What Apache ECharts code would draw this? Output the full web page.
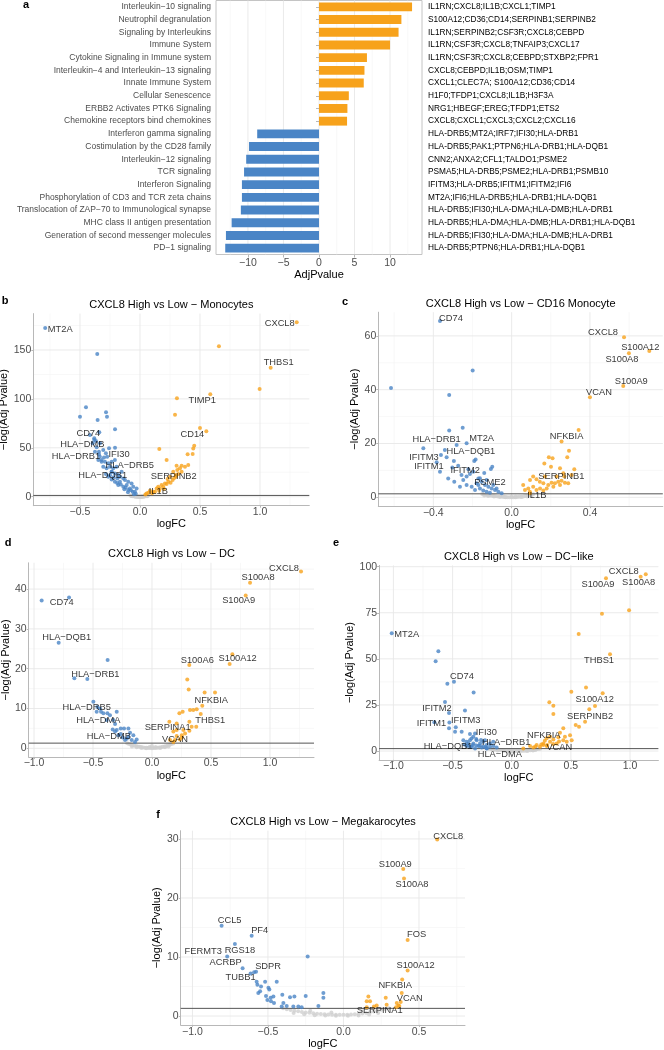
<!DOCTYPE html>
<html><head><meta charset="utf-8">
<script src="https://cdn.jsdelivr.net/npm/echarts@6/dist/echarts.min.js"></script>
<style>html,body{margin:0;padding:0;background:#fff}#c{width:664px;height:1050px}</style>
</head><body><div id="c"></div>
<script>
// ---------------- DATA ----------------
const aPathways = ['Interleukin-10 signaling','Neutrophil degranulation','Signaling by Interleukins','Immune System','Cytokine Signaling in Immune system','Interleukin-4 and Interleukin-13 signaling','Innate Immune System','Cellular Senescence','ERBB2 Activates PTK6 Signaling','Chemokine receptors bind chemokines','Interferon gamma signaling','Costimulation by the CD28 family','Interleukin-12 signaling','TCR signaling','Interferon Signaling','Phosphorylation of CD3 and TCR zeta chains','Translocation of ZAP-70 to Immunological synapse','MHC class II antigen presentation','Generation of second messenger molecules','PD-1 signaling'];
const aValues = [13.1,11.6,11.2,10.0,6.75,6.4,6.3,4.2,4.0,3.95,-8.7,-9.85,-10.25,-10.55,-10.85,-10.85,-11.0,-12.3,-13.1,-13.2];
const aGenes = ['IL1RN;CXCL8;IL1B;CXCL1;TIMP1','S100A12;CD36;CD14;SERPINB1;SERPINB2','IL1RN;SERPINB2;CSF3R;CXCL8;CEBPD','IL1RN;CSF3R;CXCL8;TNFAIP3;CXCL17','IL1RN;CSF3R;CXCL8;CEBPD;STXBP2;FPR1','CXCL8;CEBPD;IL1B;OSM;TIMP1','CXCL1;CLEC7A; S100A12;CD36;CD14','H1F0;TFDP1;CXCL8;IL1B;H3F3A','NRG1;HBEGF;EREG;TFDP1;ETS2','CXCL8;CXCL1;CXCL3;CXCL2;CXCL16','HLA-DRB5;MT2A;IRF7;IFI30;HLA-DRB1','HLA-DRB5;PAK1;PTPN6;HLA-DRB1;HLA-DQB1','CNN2;ANXA2;CFL1;TALDO1;PSME2','PSMA5;HLA-DRB5;PSME2;HLA-DRB1;PSMB10','IFITM3;HLA-DRB5;IFITM1;IFITM2;IFI6','MT2A;IFI6;HLA-DRB5;HLA-DRB1;HLA-DQB1','HLA-DRB5;IFI30;HLA-DMA;HLA-DMB;HLA-DRB1','HLA-DRB5;HLA-DMA;HLA-DMB;HLA-DRB1;HLA-DQB1','HLA-DRB5;IFI30;HLA-DMA;HLA-DMB;HLA-DRB1','HLA-DRB5;PTPN6;HLA-DRB1;HLA-DQB1'];
const aXTicks = [-10,-5,0,5,10];

const SIG = 1.3;

const bTitle = 'CXCL8 High vs Low - Monocytes';
const bXTicks = [-0.5,0,0.5,1], bYTicks = [0,50,100,150];
const bLabeled = [['MT2A',-0.79,172.5],['CXCL8',1.306,178.3],['THBS1',1.089,131.9],['TIMP1',0.586,104.7],['CD14',0.553,66.8],['CD74',-0.339,65.8],['HLA-DMB',-0.381,58.0],['HLA-DRB1',-0.342,43.4],['IFI30',-0.258,49.5],['HLA-DRB5',-0.319,37.5],['HLA-DQB1',-0.236,25.6],['SERPINB2',0.298,22.2],['IL1B',0.111,5.1]];
const bBlue = [[-0.356,145.9],[-0.45,91.4],[-0.5,81.8],[-0.283,86.3],[-0.275,81.8],[-0.353,78.4],[-0.208,68.9],[-0.417,63.1],[-0.381,59.7],[-0.367,57.0],[-0.394,54.6],[-0.333,54.6],[-0.361,50.5],[-0.208,50.1],[-0.375,46.0],[-0.342,46.0],[-0.306,47.7],[-0.284,44.3],[-0.273,40.9],[-0.3,40.2],[-0.334,40.9],[-0.347,37.5],[-0.32,35.8],[-0.292,35.8],[-0.264,34.1],[-0.236,35.8],[-0.209,37.5],[-0.306,30.7],[-0.278,29.0],[-0.25,30.7],[-0.223,29.0],[-0.195,30.7],[-0.236,25.5],[-0.209,23.8],[-0.181,22.1],[-0.167,20.4],[-0.139,18.7],[-0.125,17.0],[-0.098,15.3],[-0.07,13.6],[-0.056,10.2],[-0.028,8.5],[-0.061,5.1],[-0.098,6.8],[-0.139,10.2],[-0.181,11.9],[-0.209,15.3],[-0.236,17.7],[-0.264,20.4],[-0.284,23.2],[-0.167,15.3],[-0.111,11.9],[-0.084,8.5],[-0.042,5.1],[-0.153,25.5],[-0.189,18.7],[-0.25,22.0],[-0.22,20.0],[-0.16,12.5],[-0.12,9.5],[-0.075,6.5],[-0.035,3.0],[-0.05,2.5],[-0.1,4.5],[-0.13,7.5],[-0.19,14.0]];
const bOrange = [[0.658,153.8],[0.997,110.1],[0.308,100.6],[0.292,83.8],[0.5,70.2],[0.452,52.1],[0.444,49.4],[0.397,43.3],[0.439,43.6],[0.161,48.7],[0.222,37.5],[0.305,31.7],[0.347,31.7],[0.375,30.7],[0.402,32.4],[0.311,27.3],[0.347,25.5],[0.277,25.5],[0.319,23.2],[0.25,20.4],[0.272,17.0],[0.236,15.3],[0.208,13.6],[0.18,11.9],[0.194,10.2],[0.152,10.2],[0.139,8.5],[0.083,6.1],[0.069,4.1],[0.055,3.4],[0.222,12.9],[0.255,14.3],[0.166,8.5],[0.125,5.1],[0.3,20.4],[0.333,29.0],[0.1,3.5],[0.045,2.2],[0.23,18.0],[0.285,19.0],[0.16,6.0],[0.2,8.0]];
const bGray = [[-0.08,1.25],[-0.074,1.1],[-0.069,0.95],[-0.063,0.82],[-0.058,0.7],[-0.052,0.6],[-0.047,0.5],[-0.041,0.41],[-0.036,0.33],[-0.03,0.26],[-0.025,0.2],[-0.019,0.14],[-0.014,0.09],[-0.008,0.05],[-0.003,0.02],[0.003,0.02],[0.008,0.05],[0.014,0.1],[0.019,0.15],[0.025,0.22],[0.03,0.3],[0.036,0.38],[0.041,0.48],[0.047,0.6],[0.052,0.72],[0.058,0.86],[0.063,1.0],[0.068,1.15],[-0.06,0.45],[-0.045,0.3],[-0.033,0.15],[-0.02,0.06],[0.02,0.07],[0.035,0.2],[0.05,0.4],[-0.07,0.6],[0.06,0.55],[-0.01,0.3],[0.01,0.25]];

const cTitle = 'CXCL8 High vs Low - CD16 Monocyte';
const cXTicks = [-0.4,0,0.4], cYTicks = [0,20,40,60];
const cLabeled = [['CD74',-0.366,65.5],['CXCL8',0.574,59.5],['S100A12',0.703,54.4],['S100A8',0.599,53.5],['S100A9',0.57,41.4],['VCAN',0.4,37.2],['NFKBIA',0.255,20.7],['HLA-DRB1',-0.281,19.4],['MT2A',-0.23,20.1],['HLA-DQB1',-0.341,17.6],['IFITM3',-0.361,15.7],['IFITM1',-0.366,9.5],['IFITM2',-0.273,11.7],['PSME2',-0.162,7.1],['SERPINB1',0.269,7.7],['IL1B',0.093,1.5]];
const cBlue = [[-0.199,47.1],[-0.616,40.6],[-0.319,38.0],[-0.319,24.8],[-0.25,25.9],[-0.451,18.2],[-0.383,13.0],[-0.295,13.5],[-0.303,11.1],[-0.184,14.1],[-0.191,13.5],[-0.099,11.4],[-0.106,10.5],[-0.324,7.0],[-0.293,5.8],[-0.247,6.4],[-0.23,7.7],[-0.332,14.9],[-0.256,8.3],[-0.213,8.7],[-0.196,9.5],[-0.17,7.0],[-0.153,5.8],[-0.136,4.6],[-0.119,3.9],[-0.102,3.3],[-0.085,2.7],[-0.068,2.1],[-0.051,1.5],[-0.179,5.2],[-0.204,3.9],[-0.23,4.6],[-0.162,3.3],[-0.145,2.5],[-0.128,2.1],[-0.111,1.7],[-0.187,2.7],[-0.17,4.6],[-0.264,3.9],[-0.128,6.4],[-0.094,4.6],[-0.077,3.3],[-0.221,10.4],[-0.14,9.0]];
const cOrange = [[0.342,25.0],[0.293,17.3],[0.284,14.9],[0.19,14.9],[0.209,14.5],[0.32,10.4],[0.167,12.6],[0.201,11.4],[0.247,10.8],[0.094,6.4],[0.11,7.7],[0.127,6.7],[0.144,5.8],[0.162,5.2],[0.187,4.6],[0.204,5.4],[0.221,5.2],[0.238,5.8],[0.255,6.2],[0.272,5.4],[0.289,5.2],[0.247,4.6],[0.213,3.9],[0.179,3.3],[0.145,3.3],[0.11,3.9],[0.085,3.3],[0.068,2.7],[0.093,2.1],[0.127,2.7],[0.162,2.5],[0.059,4.6],[0.17,7.7],[0.23,7.7],[0.306,8.3],[0.264,8.9]];
const cGray = [[-0.15,1.2],[-0.14,1.05],[-0.13,0.92],[-0.12,0.8],[-0.11,0.7],[-0.1,0.6],[-0.09,0.5],[-0.08,0.42],[-0.07,0.34],[-0.06,0.27],[-0.05,0.2],[-0.04,0.14],[-0.03,0.09],[-0.02,0.05],[-0.01,0.02],[0,0.01],[0.01,0.03],[0.02,0.06],[0.03,0.11],[0.04,0.17],[0.05,0.25],[0.06,0.34],[0.07,0.45],[0.08,0.58],[0.09,0.74],[0.1,0.92],[0.11,1.12],[-0.12,0.5],[-0.09,0.3],[-0.06,0.12],[-0.03,0.03],[0.02,0.18],[0.05,0.1],[0.08,0.3],[-0.14,0.7],[0.1,0.5],[-0.04,0.35],[0.0,0.2]];

const dTitle = 'CXCL8 High vs Low - DC';
const dXTicks = [-1,-0.5,0,0.5,1], dYTicks = [0,10,20,30,40];
const dLabeled = [['CXCL8',1.263,44.4],['S100A8',0.831,41.6],['S100A9',0.794,38.4],['CD74',-0.935,37.1],['HLA-DQB1',-0.791,26.5],['S100A6',0.316,20.9],['S100A12',0.658,21.2],['HLA-DRB1',-0.548,17.4],['NFKBIA',0.426,10.7],['HLA-DRB5',-0.469,9.2],['HLA-DMA',-0.328,7.1],['THBS1',0.375,5.4],['SERPINA1',0.209,4.6],['HLA-DMB',-0.214,2.4],['VCAN',0.195,2.1]];
const dBlue = [[-0.703,37.9],[-0.376,22.2],[-0.658,17.6],[-0.497,11.7],[-0.463,10.4],[-0.441,10.0],[-0.432,9.2],[-0.412,8.8],[-0.378,8.8],[-0.299,9.2],[-0.356,8.3],[-0.313,6.1],[-0.333,4.7],[-0.299,4.6],[-0.265,5.0],[-0.237,5.0],[-0.2,5.0],[-0.265,3.6],[-0.248,2.7],[-0.172,2.1],[-0.13,2.2],[-0.158,3.3],[-0.186,3.9],[-0.285,3.3],[-0.2,2.9],[-0.144,1.6],[-0.229,2.1],[-0.313,4.2],[-0.384,7.1]];
const dOrange = [[0.681,23.6],[0.299,17.3],[0.311,14.8],[0.446,14.0],[0.534,14.0],[0.413,8.6],[0.322,9.6],[0.35,9.6],[0.379,9.8],[0.26,9.2],[0.232,8.8],[0.147,6.7],[0.209,6.2],[0.317,6.7],[0.317,4.4],[0.181,4.2],[0.252,3.3],[0.252,2.7],[0.237,2.2],[0.181,1.6],[0.153,2.1],[0.28,3.7],[0.209,3.1],[0.266,4.6],[0.336,5.4]];
const dGray = [[-0.21,1.25],[-0.195,1.1],[-0.18,0.95],[-0.165,0.82],[-0.15,0.7],[-0.135,0.58],[-0.12,0.48],[-0.105,0.38],[-0.09,0.3],[-0.075,0.23],[-0.06,0.17],[-0.045,0.12],[-0.03,0.08],[-0.015,0.05],[0,0.03],[0.015,0.05],[0.03,0.08],[0.045,0.13],[0.06,0.19],[0.075,0.27],[0.09,0.36],[0.105,0.47],[0.12,0.6],[0.135,0.75],[0.15,0.9],[0.165,1.06],[0.18,1.22],[-0.17,0.45],[-0.13,0.25],[-0.09,0.1],[-0.05,0.02],[0.03,0.3],[0.07,0.08],[0.11,0.25],[0.14,0.45],[-0.02,0.35],[0.0,0.6]];

const eTitle = 'CXCL8 High vs Low - DC-like';
const eXTicks = [-1,-0.5,0,0.5,1], eYTicks = [0,25,50,75,100];
const eLabeled = [['MT2A',-1.014,63.9],['CXCL8',1.133,95.9],['S100A8',1.09,94.6],['S100A9',0.797,93.7],['THBS1',0.831,52.5],['CD74',-0.488,37.6],['S100A12',0.769,31.3],['IFITM2',-0.564,26.6],['SERPINB2',0.62,15.9],['IFITM1',-0.654,15.6],['IFITM3',-0.473,12.9],['IFI30',-0.325,7.8],['NFKBIA',0.296,6.9],['HLA-DRB1',-0.156,5.0],['HLA-DQB1',-0.352,2.3],['HLA-DMA',-0.211,1.5],['VCAN',0.267,3.3]];
const eBlue = [[-0.62,54.1],[-0.643,48.7],[-0.544,36.5],[-0.322,31.7],[-0.53,20.6],[-0.395,22.0],[-0.527,15.5],[-0.53,12.3],[-0.479,10.5],[-0.423,10.5],[-0.353,9.2],[-0.31,9.5],[-0.409,5.9],[-0.381,5.0],[-0.353,5.9],[-0.324,4.1],[-0.296,5.9],[-0.268,4.1],[-0.24,5.0],[-0.212,3.2],[-0.183,4.1],[-0.155,2.7],[-0.127,1.9],[-0.282,2.7],[-0.338,2.3],[-0.381,2.7],[-0.31,1.4],[-0.254,1.9],[-0.212,1.4],[-0.183,2.3],[-0.367,4.1],[-0.226,5.9],[-0.4,3.5],[-0.37,3.0],[-0.33,3.3],[-0.3,3.0],[-0.27,2.8],[-0.24,2.5],[-0.22,2.0],[-0.3,6.5],[-0.26,6.0],[-0.34,6.8]];
const eOrange = [[0.992,76.3],[0.763,74.5],[0.566,63.5],[0.628,34.4],[0.504,32.2],[0.318,26.4],[0.352,24.6],[0.704,24.4],[0.656,22.6],[0.352,20.1],[0.541,14.1],[0.569,13.2],[0.436,12.3],[0.408,9.9],[0.493,8.6],[0.45,7.7],[0.394,7.4],[0.352,6.3],[0.436,5.9],[0.324,5.0],[0.267,4.1],[0.38,4.1],[0.211,3.2],[0.155,2.7],[0.239,2.3],[0.296,2.7],[0.183,1.9],[0.098,1.4],[0.465,5.0],[0.507,5.9],[0.324,7.7],[0.2,2.5],[0.25,3.5],[0.3,3.2],[0.35,3.8],[0.4,5.2],[0.28,5.5]];
const eGray = [[-0.2,1.25],[-0.183,1.1],[-0.166,0.96],[-0.149,0.83],[-0.132,0.71],[-0.115,0.6],[-0.098,0.5],[-0.081,0.41],[-0.064,0.33],[-0.047,0.26],[-0.03,0.2],[-0.013,0.15],[0.004,0.11],[0.021,0.08],[0.038,0.06],[0.055,0.06],[0.072,0.08],[0.089,0.12],[0.106,0.17],[0.123,0.24],[0.14,0.33],[0.157,0.44],[0.174,0.57],[0.191,0.72],[0.208,0.89],[0.225,1.07],[0.24,1.25],[-0.16,0.5],[-0.12,0.3],[-0.07,0.12],[0.0,0.02],[0.08,0.3],[0.13,0.05],[0.18,0.3],[0.2,0.55],[-0.02,0.5],[0.05,0.4]];

const fTitle = 'CXCL8 High vs Low - Megakarocytes';
const fXTicks = [-1,-0.5,0,0.5], fYTicks = [0,10,20,30];
const fLabeled = [['CXCL8',0.621,29.9],['S100A9',0.396,24.9],['S100A8',0.401,23.3],['FOS',0.425,12.9],['S100A12',0.425,7.7],['NFKBIA',0.389,6.2],['VCAN',0.379,2.4],['SERPINA1',0.154,1.5],['CCL5',-0.807,15.3],['PF4',-0.608,13.6],['FERMT3',-0.77,10.1],['RGS18',-0.719,12.2],['ACRBP',-0.668,8.1],['SDPR',-0.579,7.5],['TUBB1',-0.615,7.2]];
const fBlue = [[-0.237,10.1],[-0.519,5.8],[-0.57,5.3],[-0.546,5.0],[-0.497,4.8],[-0.491,4.5],[-0.552,4.2],[-0.564,3.9],[-0.442,5.8],[-0.513,3.4],[-0.482,3.1],[-0.464,3.3],[-0.504,2.7],[-0.48,2.5],[-0.46,2.2],[-0.405,3.6],[-0.354,3.2],[-0.325,3.3],[-0.25,3.4],[-0.133,3.9],[-0.133,3.1],[-0.166,1.7],[-0.398,2.2],[-0.376,1.7],[-0.409,1.6],[-0.332,1.6],[-0.299,1.6],[-0.277,1.5],[-0.592,7.4],[-0.575,5.8]];
const fOrange = [[0.386,3.9],[0.353,2.2],[0.364,1.8],[0.348,1.5],[0.37,1.7],[0.28,3.1],[0.286,1.9],[0.165,3.3],[0.154,2.5],[0.176,2.5],[0.22,1.8],[0.202,1.6]];
const fGray = [[-0.4,1.3],[-0.375,1.15],[-0.35,1.02],[-0.325,0.9],[-0.3,0.8],[-0.275,0.7],[-0.25,0.62],[-0.225,0.54],[-0.2,0.47],[-0.175,0.41],[-0.15,0.36],[-0.125,0.31],[-0.1,0.27],[-0.075,0.24],[-0.05,0.22],[-0.025,0.21],[0,0.21],[0.025,0.22],[0.05,0.25],[0.075,0.29],[0.1,0.35],[0.125,0.43],[0.15,0.53],[0.175,0.65],[0.2,0.79],[0.225,0.94],[0.25,1.08],[0.275,1.2],[0.3,1.3],[-0.33,0.5],[-0.26,0.3],[-0.19,0.15],[-0.12,0.08],[-0.05,0.05],[0.03,0.06],[0.1,0.1],[0.17,0.25],[0.23,0.5],[-0.22,0.9],[0.12,0.8],[-0.08,0.6]];

// ---------------- STYLE / LAYOUT ----------------
const BLUE = '#4A85C6', ORANGE = '#F7A21B', GRAY = '#CFCFCF';
const FONT = '"Liberation Sans", Arial, sans-serif';
const AXC = '#b8b8b8', TXT = '#4d4d4d', MAJ = '#e8e8e8', MINC = '#f3f3f3';
const um = s => String(s).replace(/-/g, '\u2212');

const LABEL_OFFSETS = {
  b: {MT2A:[15,1], CXCL8:[-17,1], THBS1:[8,-5], TIMP1:[-8,6], CD14:[-14,3], CD74:[-11,1], 'HLA-DMB':[-12,4], 'HLA-DRB1':[-23,2], IFI30:[10,6], 'HLA-DRB5':[28,5], 'HLA-DQB1':[-9,4], SERPINB2:[-2,1], IL1B:[5,0]},
  c: {CD74:[11,-3], CXCL8:[-21,-5], S100A12:[-9,-4], S100A8:[-7,6], S100A9:[8,-4], VCAN:[9,-5], NFKBIA:[5,-5], 'HLA-DRB1':[-20,-6], MT2A:[15,-5], 'HLA-DQB1':[26,1], IFITM3:[-17,2], IFITM1:[-11,-5], IFITM2:[7,5], PSME2:[10,4], SERPINB1:[-3,0], IL1B:[7,2]},
  d: {CXCL8:[-17,-3], S100A8:[8,-5], S100A9:[-7,5], CD74:[20,2], 'HLA-DQB1':[8,-5], S100A6:[8,-5], S100A12:[8,-5], 'HLA-DRB1':[8,-5], NFKBIA:[9,-5], 'HLA-DRB5':[-10,-4], 'HLA-DMA':[-15,0], THBS1:[14,-6], SERPINA1:[-9,-3], 'HLA-DMB':[-18,-2], VCAN:[0,-1]},
  e: {MT2A:[15,1], CXCL8:[-22,-3], S100A8:[-2,6], S100A9:[-8,6], THBS1:[-11,6], CD74:[8,-5], S100A12:[-8,6], IFITM2:[-8,6], SERPINB2:[5,-5], IFITM1:[-3,1], IFITM3:[10,-7], IFI30:[13,-4], NFKBIA:[-3,-3], 'HLA-DRB1':[13,1], 'HLA-DQB1':[-22,0], 'HLA-DMA':[13,6], VCAN:[16,3]},
  f: {CXCL8:[11,-3], S100A9:[-8,-5], S100A8:[8,6], FOS:[9,-5], S100A12:[8,-5], NFKBIA:[-7,6], VCAN:[9,-3], SERPINA1:[13,3], CCL5:[8,-5], PF4:[8,-5], FERMT3:[-24,-5], RGS18:[5,6], ACRBP:[-17,-6], SDPR:[12,-5], TUBB1:[-10,4]}
};

const panels = [
  {k:'b', title:bTitle, xt:bXTicks, yt:bYTicks, lab:bLabeled, blue:bBlue, orange:bOrange, gray:bGray,
   grid:{left:33.3, top:313.6, width:276, height:192.1}, x:[-0.889,1.411], y:[-9.2,187.2], yGap:21, xGap:11, xMargin:1, tpos:[171.4,305], lpos:[5,301]},
  {k:'c', title:cTitle, xt:cXTicks, yt:cYTicks, lab:cLabeled, blue:cBlue, orange:cOrange, gray:cGray,
   grid:{left:378.3, top:312.2, width:284.5, height:194}, x:[-0.681,0.772], y:[-3.3,68.8], yGap:18, xGap:11, xMargin:1, tpos:[520.6,304], lpos:[345,302]},
  {k:'d', title:dTitle, xt:dXTicks, yt:dYTicks, lab:dLabeled, blue:dBlue, orange:dOrange, gray:dGray,
   grid:{left:28.7, top:562.8, width:285.3, height:194.3}, x:[-1.045,1.373], y:[-2.21,46.6], yGap:16, xGap:11.5, xMargin:1, tpos:[171.4,553.5], lpos:[8,543]},
  {k:'e', title:eTitle, xt:eXTicks, yt:eYTicks, lab:eLabeled, blue:eBlue, orange:eOrange, gray:eGray,
   grid:{left:379.1, top:565.4, width:279.3, height:194.4}, x:[-1.121,1.24], y:[-4.77,100.7], yGap:20, xGap:13, xMargin:1, tpos:[518.8,556.5], lpos:[336,543]},
  {k:'f', title:fTitle, xt:fXTicks, yt:fYTicks, lab:fLabeled, blue:fBlue, orange:fOrange, gray:fGray,
   grid:{left:180.7, top:830.7, width:284.3, height:194.2}, x:[-1.078,0.805], y:[-1.5,31.4], yGap:18.5, xGap:12, xMargin:2, tpos:[323,821.7], lpos:[158,815]}
];

function minorOf(ticks, lo, hi) {
  const step = ticks[1] - ticks[0];
  const out = [];
  for (let i = -1; i < ticks.length; i++) {
    const base = i < 0 ? ticks[0] - step : ticks[i];
    const v = base + step / 2;
    if (v > lo && v < hi) out.push(v);
  }
  return out;
}

function gridRenderer(xMaj, xMin, yMaj, yMin) {
  return function (params, api) {
    const cs = params.coordSys, ch = [];
    const vl = (v, c, w) => { const x = api.coord([v, 0])[0]; ch.push({type:'line', shape:{x1:x, y1:cs.y, x2:x, y2:cs.y + cs.height}, style:{stroke:c, lineWidth:w}}); };
    const hl = (v, c, w) => { const y = api.coord([0, v])[1]; ch.push({type:'line', shape:{x1:cs.x, y1:y, x2:cs.x + cs.width, y2:y}, style:{stroke:c, lineWidth:w}}); };
    xMin.forEach(v => vl(v, MINC, 0.6)); yMin.forEach(v => hl(v, MINC, 0.6));
    xMaj.forEach(v => vl(v, MAJ, 0.9)); yMaj.forEach(v => hl(v, MAJ, 0.9));
    return {type:'group', children: ch};
  };
}

const grids = [], xAxes = [], yAxes = [], series = [], graphics = [];

// ---- panel a ----
grids.push({left:216, top:0.5, width:206, height:254, show:true, borderColor:'#c4c4c4', borderWidth:1, backgroundColor:'transparent', outerBoundsMode:'none', containLabel:false});
xAxes.push({gridIndex:0, type:'value', min:-14.5, max:14.5,
  axisLine:{show:false}, splitLine:{show:false},
  axisTick:{show:true, length:3, customValues:aXTicks, lineStyle:{color:AXC}},
  axisLabel:{customValues:aXTicks, formatter:v => um(v), fontSize:10.5, color:TXT, margin:3, fontFamily:FONT},
  name:'AdjPvalue', nameLocation:'middle', nameGap:14, nameTextStyle:{fontSize:11, color:'#000', fontFamily:FONT}});
yAxes.push({gridIndex:0, type:'category', data:aPathways.map(um), inverse:true,
  axisLine:{show:false}, axisTick:{show:true, length:3, alignWithLabel:true, lineStyle:{color:AXC}},
  axisLabel:{interval:0, fontSize:8.5, color:TXT, margin:5, fontFamily:FONT}, splitLine:{show:false}});
yAxes.push({gridIndex:0, type:'category', data:aGenes, inverse:true, position:'right',
  axisLine:{show:false}, axisTick:{show:false},
  axisLabel:{interval:0, fontSize:8.3, color:'#000', margin:6, fontFamily:FONT}, splitLine:{show:false}});
series.push({type:'custom', xAxisIndex:0, yAxisIndex:0, z:0, silent:true, data:[[0,0]],
  renderItem: gridRenderer(aXTicks, minorOf(aXTicks, -14.5, 14.5), [], [])});
series.push({type:'bar', xAxisIndex:0, yAxisIndex:0, data:aValues, barWidth:'70%', z:2,
  itemStyle:{color: p => p.value >= 0 ? ORANGE : BLUE}});
graphics.push({type:'text', x:26, y:5, style:{text:'a', font:'bold 11px ' + FONT, fill:'#000', textAlign:'center', textVerticalAlign:'middle'}});

// ---- volcano panels ----
panels.forEach((P, i) => {
  const gi = i + 1, yi = i + 2;
  grids.push(Object.assign({outerBoundsMode:'none', containLabel:false}, P.grid));
  xAxes.push({gridIndex:gi, type:'value', min:P.x[0], max:P.x[1],
    axisLine:{show:true, onZero:false, lineStyle:{color:AXC, width:1}}, splitLine:{show:false},
    axisTick:{show:true, length:2, customValues:P.xt, lineStyle:{color:AXC}},
    axisLabel:{customValues:P.xt, formatter:v => um(v.toFixed(1)), fontSize:10.5, color:TXT, margin:P.xMargin, fontFamily:FONT},
    name:'logFC', nameLocation:'middle', nameGap:P.xGap, nameTextStyle:{fontSize:11, color:'#000', fontFamily:FONT}});
  yAxes.push({gridIndex:gi, type:'value', min:P.y[0], max:P.y[1],
    axisLine:{show:true, onZero:false, lineStyle:{color:AXC, width:1}}, splitLine:{show:false},
    axisTick:{show:true, length:2, customValues:P.yt, lineStyle:{color:AXC}},
    axisLabel:{customValues:P.yt, formatter:v => um(v), fontSize:10.5, color:TXT, margin:2, fontFamily:FONT},
    name:um('-log(Adj Pvalue)'), nameLocation:'middle', nameGap:P.yGap, nameTextStyle:{fontSize:11, color:'#000', fontFamily:FONT}});
  series.push({type:'custom', xAxisIndex:gi, yAxisIndex:yi, z:0, silent:true, data:[[0,0]],
    renderItem: gridRenderer(P.xt, minorOf(P.xt, P.x[0], P.x[1]), P.yt, minorOf(P.yt, P.y[0], P.y[1]))});
  series.push({type:'scatter', xAxisIndex:gi, yAxisIndex:yi, data:P.gray, symbolSize:4, z:1, silent:true, itemStyle:{color:GRAY}});
  series.push({type:'custom', xAxisIndex:gi, yAxisIndex:yi, z:2, silent:true, data:[[0, SIG]],
    renderItem: (params, api) => { const cs = params.coordSys; const y = api.coord([0, SIG])[1];
      return {type:'line', shape:{x1:cs.x, y1:y, x2:cs.x + cs.width, y2:y}, style:{stroke:'#555555', lineWidth:1}}; }});
  series.push({type:'scatter', xAxisIndex:gi, yAxisIndex:yi, data:P.blue, symbolSize:4, z:3, silent:true, itemStyle:{color:BLUE}});
  series.push({type:'scatter', xAxisIndex:gi, yAxisIndex:yi, data:P.orange, symbolSize:4, z:3, silent:true, itemStyle:{color:ORANGE}});
  const off = LABEL_OFFSETS[P.k];
  series.push({type:'scatter', xAxisIndex:gi, yAxisIndex:yi, symbolSize:4, z:4, silent:true,
    data: P.lab.map(([name, x, y]) => ({value:[x, y], itemStyle:{color: x < 0 ? BLUE : ORANGE},
      label:{show:true, formatter:um(name), position:'inside', offset:off[name] || [0,0], color:'#000', fontSize:9.3, fontFamily:FONT, textBorderWidth:0}}))});
  graphics.push({type:'text', x:P.tpos[0], y:P.tpos[1], style:{text:um(P.title), font:'11px ' + FONT, fill:'#000', textAlign:'center', textVerticalAlign:'middle'}});
  graphics.push({type:'text', x:P.lpos[0], y:P.lpos[1], style:{text:P.k, font:'bold 11px ' + FONT, fill:'#000', textAlign:'center', textVerticalAlign:'middle'}});
});

const chart = echarts.init(document.getElementById('c'), null, {renderer:'canvas'});
chart.setOption({animation:false, backgroundColor:'#fff', grid:grids, xAxis:xAxes, yAxis:yAxes, series:series, graphic:graphics, tooltip:{show:false}});
</script></body></html>
